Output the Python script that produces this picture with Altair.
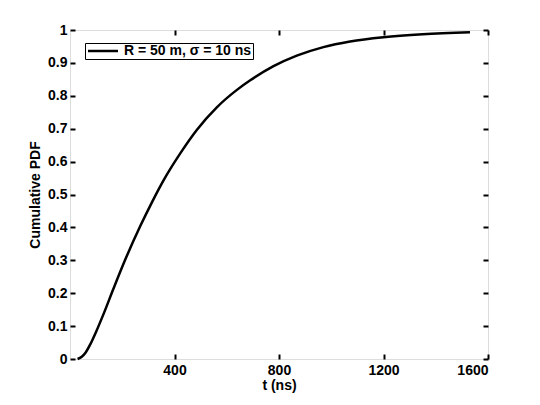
import altair as alt
import pandas as pd

# Data
t_ns = [29, 45, 60, 78, 100, 129, 167, 212, 269, 314, 358, 422, 486, 562, 639,
        690, 779, 868, 970, 1072, 1200, 1350, 1531]
cdf = [0.0, 0.007, 0.02, 0.045, 0.083, 0.138, 0.215, 0.303, 0.404, 0.477, 0.543,
       0.625, 0.697, 0.765, 0.818, 0.847, 0.89, 0.922, 0.948, 0.965, 0.978, 0.987, 0.993]
series_name = "R = 50 m, \u03c3 = 10 ns"
x_ticks = [400, 800, 1200, 1600]
y_ticks = [0, 0.1, 0.2, 0.3, 0.4, 0.5, 0.6, 0.7, 0.8, 0.9, 1]

df = pd.DataFrame({"t": t_ns, "cdf": cdf, "series": [series_name] * len(t_ns)})

FONT = "Liberation Sans"
common_axis = dict(
    domain=False, grid=False, tickSize=5, offset=-5, tickWidth=2,
    tickColor="black", labelFont=FONT, labelFontSize=14, labelFontWeight="bold",
    labelColor="black", titleFont=FONT, titleFontSize=14, titleFontWeight="bold",
    titleColor="black",
)

xs = alt.Scale(domain=[0, 1600], nice=False, zero=False)
ys = alt.Scale(domain=[0, 1], nice=False)

main = alt.Chart(df).mark_line(strokeWidth=2.5, interpolate="monotone").encode(
    x=alt.X("t:Q", scale=xs, axis=alt.Axis(values=x_ticks, title="t (ns)", format="d",
                                           labelPadding=4, titlePadding=1, **common_axis)),
    y=alt.Y("cdf:Q", scale=ys, axis=alt.Axis(values=y_ticks, title="Cumulative PDF",
                                             format="~g", labelPadding=3, titlePadding=5,
                                             **common_axis)),
    color=alt.Color("series:N", scale=alt.Scale(range=["black"]),
                    legend=alt.Legend(title=None, orient="none", legendX=15, legendY=13,
                                      symbolType="M-1,0H5", symbolSize=100,
                                      symbolStrokeWidth=2.5, labelFont=FONT,
                                      labelFontSize=14, labelFontWeight="bold",
                                      labelColor="black", strokeColor="black",
                                      fillColor="white", padding=1, labelOffset=24)),
)

mirror = alt.Chart(df).mark_line(opacity=0).encode(
    x=alt.X("t:Q", scale=xs, axis=alt.Axis(values=x_ticks, orient="top", labels=False,
                                           title=None, **common_axis)),
    y=alt.Y("cdf:Q", scale=ys, axis=alt.Axis(values=y_ticks, orient="right", labels=False,
                                             title=None, **common_axis)),
)

chart = alt.layer(main, mirror).resolve_axis(x="independent", y="independent").properties(
    width=418, height=329,
    autosize=alt.AutoSizeParams(type="none"),
    padding={"left": 62, "top": 22, "right": 40, "bottom": 38},
).configure_view(stroke="black", strokeWidth=2).configure(background="white")

chart.save("out.html", embed_options={"renderer": "svg", "actions": False})
